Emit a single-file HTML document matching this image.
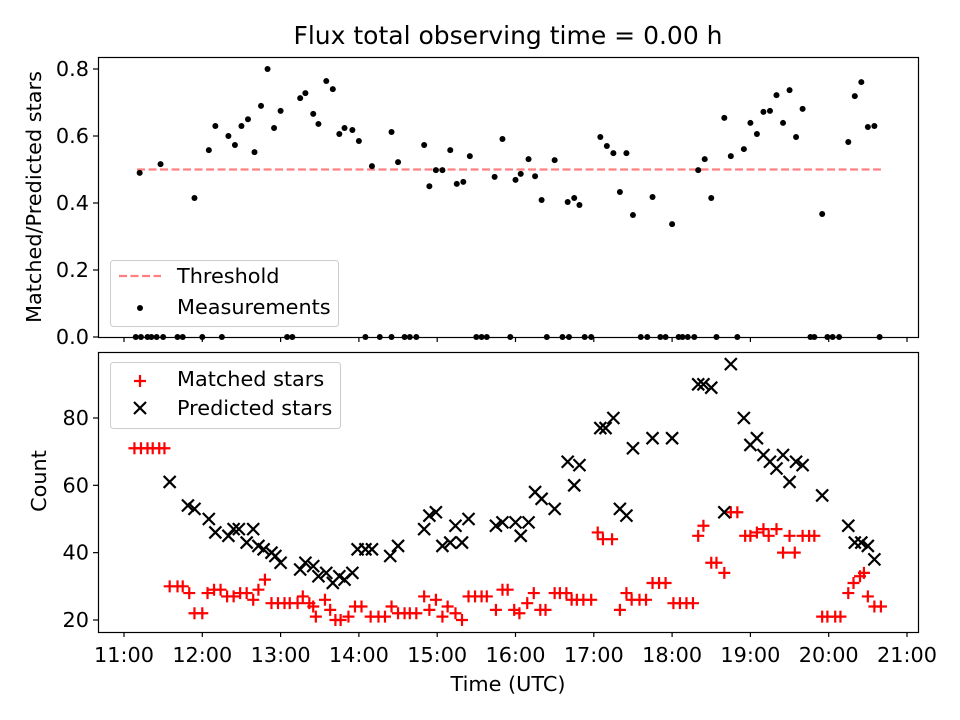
<!DOCTYPE html>
<html><head><meta charset="utf-8"><style>
body{margin:0;background:#fff;}
svg{display:block;font-family:"DejaVu Sans","Liberation Sans",sans-serif;}
</style></head><body>
<svg id="chart" width="960" height="720">
<rect width="960" height="720" fill="#fff"/>
<text x="508" y="44" text-anchor="middle" font-size="25">Flux total observing time = 0.00 h</text>
<g id="gtop"></g>
<g id="gbot"></g>
</svg>
<script>
// ---- data ----
const ratioTimes = ["11:12","11:28","11:54","12:05","12:10","12:20","12:25","12:30","12:35","12:40","12:45","12:50","12:55","13:00","13:15","13:19","13:25","13:29","13:35","13:40","13:45","13:49","13:55","14:00","14:10","14:25","14:30","14:50","14:54","14:59","15:04","15:10","15:15","15:20","15:25","15:44","15:50","16:00","16:04","16:10","16:15","16:20","16:30","16:40","16:45","16:49","17:05","17:10","17:15","17:20","17:25","17:30","17:45","18:00","18:20","18:25","18:30","18:40","18:45","18:55","19:00","19:05","19:10","19:15","19:20","19:25","19:30","19:35","19:40","19:55","20:15","20:20","20:25","20:30","20:35",
"11:09","11:13","11:18","11:21","11:25","11:30","11:41","11:45","12:00","12:15","13:05","13:09","14:05","14:16","14:25","14:35","14:39","14:44","15:30","15:34","15:38","15:56","16:24","16:36","16:41","16:53","16:58","17:36","17:41","17:51","17:55","18:05","18:08","18:12","18:17","18:34","18:50","19:46","19:49","19:59","20:03","20:08","20:39"];
const ratioValues = [0.49,0.516,0.415,0.558,0.63,0.60,0.573,0.63,0.65,0.552,0.69,0.80,0.624,0.675,0.713,0.728,0.666,0.636,0.764,0.74,0.606,0.624,0.618,0.585,0.51,0.612,0.522,0.573,0.45,0.498,0.498,0.558,0.457,0.463,0.54,0.478,0.591,0.469,0.487,0.531,0.48,0.409,0.528,0.403,0.415,0.394,0.597,0.57,0.549,0.433,0.549,0.364,0.418,0.337,0.498,0.531,0.415,0.654,0.54,0.561,0.639,0.606,0.672,0.675,0.722,0.639,0.737,0.597,0.681,0.367,0.582,0.719,0.761,0.627,0.63,
0,0,0,0,0,0,0,0,0,0,0,0,0,0,0,0,0,0,0,0,0,0,0,0,0,0,0,0,0,0,0,0,0,0,0,0,0,0,0,0,0,0,0];
const threshold = 0.5;
const thresholdSpan = ["11:10","20:40"];
const matchedTimes = ["11:08","11:13","11:18","11:22","11:27","11:31","11:35","11:41","11:45","11:50","11:54","12:00","12:04","12:09","12:14","12:19","12:24","12:29","12:34","12:39","12:43","12:48","12:53","12:58","13:03","13:07","13:13","13:17","13:22","13:25","13:27","13:34","13:38","13:42","13:46","13:52","13:57","14:02","14:09","14:15","14:20","14:25","14:30","14:35","14:39","14:44","14:50","14:54","14:59","15:04","15:08","15:14","15:19","15:24","15:29","15:34","15:38","15:45","15:50","15:54","15:59","16:03","16:09","16:14","16:19","16:23","16:30","16:34","16:39","16:43","16:47","16:52","16:58","17:03","17:07","17:14","17:20","17:25","17:29","17:35","17:40","17:45","17:50","17:55","18:01","18:06","18:11","18:16","18:20","18:24","18:30","18:34","18:40","18:45","18:50","18:56","19:00","19:05","19:10","19:14","19:20","19:25","19:30","19:34","19:40","19:45","19:49","19:55","19:59","20:05","20:09","20:15","20:19","20:24","20:27","20:30","20:35","20:40"];
const matchedValues = [71,71,71,71,71,71,30,30,30,28,22,22,28,29,29,27,27,28,28,26,29,32,25,25,25,25,25,27,25,24,21,26,23,20,20,21,24,24,21,21,21,24,22,22,22,22,27,23,26,21,24,22,20,27,27,27,27,23,29,29,23,22,25,28,23,23,28,28,28,26,26,26,26,46,44,44,23,28,26,26,26,31,31,31,25,25,25,25,45,48,37,37,34,52,52,45,45,46,47,45,47,40,45,40,45,45,45,21,21,21,21,28,31,33,34,27,24,24];
const predictedTimes = ["11:35","11:49","11:54","12:05","12:10","12:20","12:24","12:28","12:34","12:39","12:43","12:47","12:53","12:56","13:00","13:15","13:19","13:25","13:29","13:35","13:40","13:45","13:49","13:55","13:59","14:05","14:10","14:24","14:30","14:50","14:54","14:59","15:04","15:10","15:14","15:19","15:24","15:45","15:50","16:00","16:04","16:10","16:15","16:20","16:30","16:40","16:45","16:49","17:05","17:09","17:15","17:20","17:25","17:30","17:45","18:00","18:20","18:24","18:30","18:40","18:45","18:55","19:00","19:05","19:10","19:15","19:20","19:25","19:30","19:35","19:40","19:55","20:15","20:20","20:25","20:30","20:35"];
const predictedValues = [61,54,53,50,46,45,47,47,43,47,42,41,40,39,37,35,37,36,33,34,31,33,32,34,41,41,41,39,42,47,51,52,42,43,48,43,50,48,49,49,45,49,58,56,53,67,60,66,77,77,80,53,51,71,74,74,90,90,89,52,96,80,72,74,69,67,65,69,61,67,66,57,48,43,43,42,38];
const hourTicks = [11,12,13,14,15,16,17,18,19,20,21];
const ratioTicks = [0,0.2,0.4,0.6,0.8];
const countTicks = [20,40,60,80];

// ---- axes ----
const NS="http://www.w3.org/2000/svg";
const xs=h=>124+(h-11)*78.3;
const tH=s=>{const p=s.split(":");return +p[0]+(+p[1])/60;};
const yTop=v=>337-v*335;
const yBot=v=>620-(v-20)*3.367;
function mk(t,a,parent){const e=document.createElementNS(NS,t);for(const k in a)e.setAttribute(k,a[k]);parent.appendChild(e);return e;}
const gTop=document.getElementById('gtop'), gBot=document.getElementById('gbot');

function frame(g,y1,showLabels){
  for(const h of hourTicks){
    const x=xs(h);
    const t=mk('line',{x1:x,x2:x,y1:y1,y2:y1+5,stroke:'#000','stroke-width':1.2},g);
    
    
    if(showLabels){
      const lb=mk('text',{x:x,y:y1+30,'text-anchor':'middle','font-size':20.8},g);
      lb.textContent=h+':00';
      
      
    }
  }
}
frame(gTop,337,false);
for(const v of ratioTicks){
  const y=yTop(v);
  const t=mk('line',{x1:93,x2:98,y1:y,y2:y,stroke:'#000','stroke-width':1.2},gTop);
  
  
  const lb=mk('text',{x:89,y:y+7,'text-anchor':'end','font-size':20.8},gTop);
  lb.textContent=v.toFixed(1);
  
  
}
const th=mk('line',{x1:xs(tH(thresholdSpan[0])),x2:xs(tH(thresholdSpan[1])),y1:yTop(threshold),y2:yTop(threshold),stroke:'#ff8080','stroke-width':2.2,'stroke-dasharray':'8,3.5'},gTop);


ratioTimes.forEach((t,i)=>{
  const c=mk('circle',{cx:xs(tH(t)),cy:yTop(ratioValues[i]),r:3,fill:'#000'},gTop);
  
  
});
frame(gBot,632,true);
for(const v of countTicks){
  const y=yBot(v);
  const t=mk('line',{x1:93,x2:98,y1:y,y2:y,stroke:'#000','stroke-width':1.2},gBot);
  
  
  const lb=mk('text',{x:89,y:y+7,'text-anchor':'end','font-size':20.8},gBot);
  lb.textContent=v;
  
  
}
function plus(g,x,y){return mk('path',{d:`M${x-6},${y}H${x+6}M${x},${y-6}V${y+6}`,stroke:'#ff0000','stroke-width':2.2,fill:'none'},g);}
function cross(g,x,y){return mk('path',{d:`M${x-6},${y-6}L${x+6},${y+6}M${x-6},${y+6}L${x+6},${y-6}`,stroke:'#000','stroke-width':2.2,fill:'none'},g);}
matchedTimes.forEach((t,i)=>{
  const p=plus(gBot,xs(tH(t)),yBot(matchedValues[i]));
  
  
});
predictedTimes.forEach((t,i)=>{
  const p=cross(gBot,xs(tH(t)),yBot(predictedValues[i]));
  
  
});
</script>
<svg style="position:absolute;left:0;top:0" width="960" height="720">
<rect x="98.5" y="57.5" width="820" height="280" fill="none" stroke="#000" stroke-width="1.2"/>
<rect x="98.5" y="352.5" width="820" height="280" fill="none" stroke="#000" stroke-width="1.2"/>
<text transform="translate(41,197) rotate(-90)" text-anchor="middle" font-size="20.8">Matched/Predicted stars</text>
<text transform="translate(46,481) rotate(-90)" text-anchor="middle" font-size="20.8">Count</text>
<text x="508" y="691" text-anchor="middle" font-size="20.8">Time (UTC)</text>
<g font-size="20.8">
<rect x="110.5" y="260.5" width="228" height="66" rx="3" fill="#fff" fill-opacity="0.8" stroke="#ccc"/>
<line x1="119" x2="161" y1="276" y2="276" stroke="#ff8080" stroke-width="2.2" stroke-dasharray="8,3.5"/>
<text x="177" y="283">Threshold</text>
<circle cx="140" cy="308" r="3" fill="#000"/>
<text x="177" y="314">Measurements</text>
</g>
<g font-size="20.8">
<rect x="110.5" y="362.5" width="230" height="66" rx="3" fill="#fff" fill-opacity="0.8" stroke="#ccc"/>
<path d="M134,381H146M140,375V387" stroke="#f00" stroke-width="2.2"/>
<text x="177" y="386">Matched stars</text>
<path d="M134,402L146,414M134,414L146,402" stroke="#000" stroke-width="2.2"/>
<text x="177" y="415">Predicted stars</text>
</g>
</svg>
</body></html>
